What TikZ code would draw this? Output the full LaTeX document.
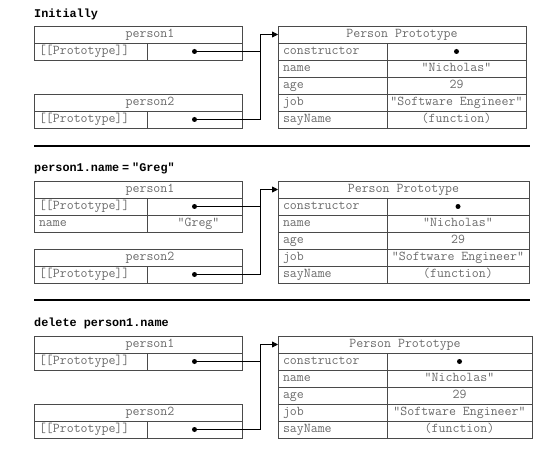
\documentclass[tikz,border=0pt]{standalone}
\usepackage{fontspec}
\newfontfamily\titlemono{Liberation Mono}
\usepackage{xcolor}
\usepackage{tikz}
\usetikzlibrary{arrows.meta,positioning}
\definecolor{linegray}{HTML}{4A4A4A}
\definecolor{textgray}{HTML}{6A6A6A}
\newcommand{\tabfont}{\ttfamily\fontsize{13.5}{15}\selectfont}

\tikzset{
    cell/.style={draw=linegray, line width=0.8pt, rectangle, anchor=north west,
        minimum height=17pt, inner xsep=5pt, inner ysep=0pt, outer sep=0pt,
        text height=8.5pt, text depth=2.5pt, font=\tabfont, text=textgray},
    lcell/.style={cell, text width=#1, align=left},
    ccell/.style={cell, minimum width=#1, inner xsep=1pt},
    phead/.style={ccell=208pt, execute at begin node={\hspace*{24pt}}},
    title/.style={anchor=west, inner sep=0pt, font=\titlemono\fontsize{11.8}{14}\selectfont\bfseries, text=black},
    dot/.style={circle, fill=black, minimum size=5pt, inner sep=0pt},
    link/.style={black, line width=0.8pt, -{Triangle[length=6pt,width=6pt]}},
    wire/.style={black, line width=0.8pt},
    rule/.style={black, line width=1.6pt}
}

\begin{document}
\begin{tikzpicture}[x=1pt, y=-1pt]
\useasboundingbox (0,0) rectangle (543,454);

% ---- Panel 1: Initially ----
\begin{scope}
    \node[title] (t1) at (34,14) {Initially};

    % person1
    \node[phead] (a1h) at (34,26) {person1};
    \node[lcell=103pt] (a1k) at (34,43) {[[Prototype]]};
    \node[ccell=95pt] (a1v) at (147,43) {};

    % person2
    \node[phead] (b1h) at (34,94) {person2};
    \node[lcell=103pt] (b1k) at (34,111) {[[Prototype]]};
    \node[ccell=95pt] (b1v) at (147,111) {};

    % prototype
    \node[ccell=248pt] (pr1) at (278,26) {Person Prototype};
    \node[lcell=99pt] (pr1k1) at (278,43) {constructor};
    \node[ccell=139pt] (pr1v1) at (387,43) {};
    \node[lcell=99pt] (pr1k2) at (278,60) {name};
    \node[ccell=139pt] (pr1v2) at (387,60) {"Nicholas"};
    \node[lcell=99pt] (pr1k3) at (278,77) {age};
    \node[ccell=139pt] (pr1v3) at (387,77) {29};
    \node[lcell=99pt] (pr1k4) at (278,94) {job};
    \node[ccell=139pt] (pr1v4) at (387,94) {"Software Engineer"};
    \node[lcell=99pt] (pr1k5) at (278,111) {sayName};
    \node[ccell=139pt] (pr1v5) at (387,111) {(function)};
    \node[dot] (c1) at (pr1v1.center) {};

    % pointers
    \node[dot] (d1a) at (a1v.center) {};
    \node[dot] (d1b) at (b1v.center) {};
    \coordinate (k1) at (260,34.5);
    \draw[link] (d1a.center) -| (k1) -- (pr1.west);
    \draw[wire] (d1b.center) -| (k1);

    \draw[rule] (34,146) -- (530,146);
\end{scope}

% ---- Panel 2: person1.name = "Greg" ----
\begin{scope}[shift={(0,155)}]
    \node[title] (t2) at (34,13) {person1.name\hspace{3pt}=\hspace{3pt}"Greg"};

    % person1
    \node[phead] (a2h) at (34,26) {person1};
    \node[lcell=103pt] (a2k) at (34,43) {[[Prototype]]};
    \node[ccell=95pt] (a2v) at (147,43) {};
    \node[lcell=103pt] (a2n) at (34,60) {name};
    \node[ccell=95pt] (a2g) at (147,60) {\hspace*{8pt}"Greg"};

    % person2
    \node[phead] (b2h) at (34,94) {person2};
    \node[lcell=103pt] (b2k) at (34,111) {[[Prototype]]};
    \node[ccell=95pt] (b2v) at (147,111) {};

    % prototype
    \node[ccell=251pt] (pr2) at (278,26) {Person Prototype};
    \node[lcell=99pt] (pr2k1) at (278,43) {constructor};
    \node[ccell=142pt] (pr2v1) at (387,43) {};
    \node[lcell=99pt] (pr2k2) at (278,60) {name};
    \node[ccell=142pt] (pr2v2) at (387,60) {"Nicholas"};
    \node[lcell=99pt] (pr2k3) at (278,77) {age};
    \node[ccell=142pt] (pr2v3) at (387,77) {29};
    \node[lcell=99pt] (pr2k4) at (278,94) {job};
    \node[ccell=142pt] (pr2v4) at (387,94) {"Software Engineer"};
    \node[lcell=99pt] (pr2k5) at (278,111) {sayName};
    \node[ccell=142pt] (pr2v5) at (387,111) {(function)};
    \node[dot] (c2) at (pr2v1.center) {};

    % pointers
    \node[dot] (d2a) at (a2v.center) {};
    \node[dot] (d2b) at (b2v.center) {};
    \coordinate (k2) at (260,34.5);
    \draw[link] (d2a.center) -| (k2) -- (pr2.west);
    \draw[wire] (d2b.center) -| (k2);

    \draw[rule] (34,145) -- (530,145);
\end{scope}

% ---- Panel 3: delete person1.name ----
\begin{scope}[shift={(0,310)}]
    \node[title] (t3) at (34,13) {delete person1.name};

    % person1
    \node[phead] (a3h) at (34,26) {person1};
    \node[lcell=103pt] (a3k) at (34,43) {[[Prototype]]};
    \node[ccell=95pt] (a3v) at (147,43) {};

    % person2
    \node[phead] (b3h) at (34,94) {person2};
    \node[lcell=103pt] (b3k) at (34,111) {[[Prototype]]};
    \node[ccell=95pt] (b3v) at (147,111) {};

    % prototype
    \node[ccell=254pt] (pr3) at (278,26) {Person Prototype};
    \node[lcell=99pt] (pr3k1) at (278,43) {constructor};
    \node[ccell=145pt] (pr3v1) at (387,43) {};
    \node[lcell=99pt] (pr3k2) at (278,60) {name};
    \node[ccell=145pt] (pr3v2) at (387,60) {"Nicholas"};
    \node[lcell=99pt] (pr3k3) at (278,77) {age};
    \node[ccell=145pt] (pr3v3) at (387,77) {29};
    \node[lcell=99pt] (pr3k4) at (278,94) {job};
    \node[ccell=145pt] (pr3v4) at (387,94) {"Software Engineer"};
    \node[lcell=99pt] (pr3k5) at (278,111) {sayName};
    \node[ccell=145pt] (pr3v5) at (387,111) {(function)};
    \node[dot] (c3) at (pr3v1.center) {};

    % pointers
    \node[dot] (d3a) at (a3v.center) {};
    \node[dot] (d3b) at (b3v.center) {};
    \coordinate (k3) at (260,34.5);
    \draw[link] (d3a.center) -| (k3) -- (pr3.west);
    \draw[wire] (d3b.center) -| (k3);
\end{scope}

\end{tikzpicture}
\end{document}
